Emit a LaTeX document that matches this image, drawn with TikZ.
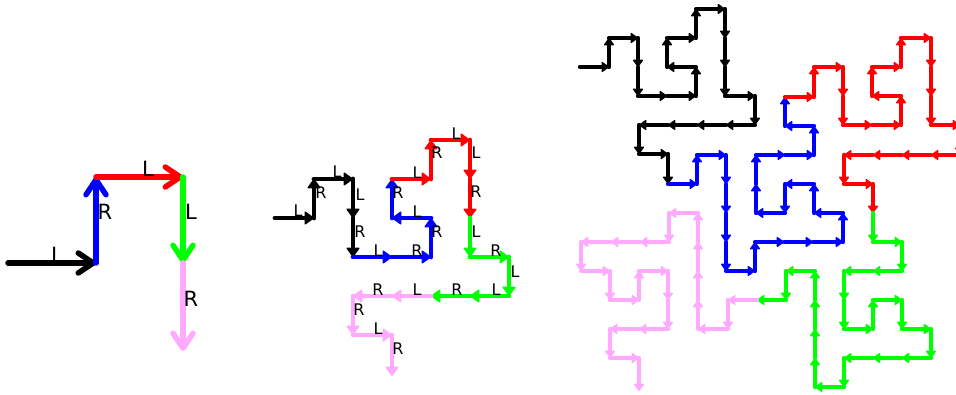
\documentclass[tikz,border=0pt]{standalone}
\usepackage{fontspec}
\setmainfont{DejaVu Sans}
\usetikzlibrary{arrows.meta}
\definecolor{pinkwalk}{RGB}{255,170,255}
\definecolor{greenwalk}{RGB}{0,255,0}
\tikzset{
	bigstep/.style={line width=5.5pt, line cap=round, -{Straight Barb[length=15pt,width=20pt,round]}},
	midstep/.style={line width=4.8pt, line cap=round, -{Triangle[length=10pt,width=14pt,round,line width=1.5pt]}},
	smallstep/.style={line width=4.2pt, line cap=round, -{Triangle[length=8pt,width=11pt,round,line width=1.5pt]}},
	biglabel/.style={font=\fontsize{21}{21}\selectfont, inner sep=0pt},
	midlabel/.style={font=\fontsize{16}{16}\selectfont, inner sep=0pt},
}
% style, colour, first point, other points
\newcommand{\drawwalk}[4]{
	\coordinate (prev) at #3;
	\foreach \p in {#4}{
		\draw[#1, #2] (prev) -- \p;
		\path \p coordinate (prev);
	}
}
\begin{document}
\begin{tikzpicture}[x=1pt, y=-1pt]
	\clip (0,0) rectangle (956,395);

	% one turn of each
	\drawwalk{bigstep}{black}{(8,263)}{(96,263)}
	\drawwalk{bigstep}{blue}{(96,263)}{(96,177)}
	\drawwalk{bigstep}{red}{(96,177)}{(183,177)}
	\drawwalk{bigstep}{greenwalk}{(183,177)}{(183,263)}
	\drawwalk{bigstep}{pinkwalk}{(183,263)}{(183,351)}
	\foreach \t/\x/\y [count=\i] in {L/57/255, R/105/212, L/148/169, L/191/212, R/191/299}{
		\node[biglabel] (big\i) at (\x, \y){\t};
	}

	% two turns
	\drawwalk{midstep}{black}{(275,218)}{(314,218),(314,179),(353,179),(353,218),(353,257)}
	\drawwalk{midstep}{blue}{(353,257)}{(392,257),(431,257),(431,218),(392,218),(392,179)}
	\drawwalk{midstep}{red}{(392,179)}{(431,179),(431,140),(470,140),(470,179),(470,218)}
	\drawwalk{midstep}{greenwalk}{(470,218)}{(470,257),(509,257),(509,296),(470,296),(431,296)}
	\drawwalk{midstep}{pinkwalk}{(431,296)}{(392,296),(353,296),(353,335),(392,335),(392,376)}
	\foreach \t/\x/\y [count=\i] in {L/298/211, R/321/193, L/337/172, L/360/195, R/360/232,
		L/378/251, R/417/251, R/437/232, L/417/212, R/398/193,
		L/417/173, R/437/153, L/456/134, L/476/153, R/476/192,
		L/476/232, R/496/251, L/515/272, L/496/290, R/457/290,
		L/417/290, R/378/290, R/359/310, L/378/329, R/398/349}{
		\node[midlabel] (mid\i) at (\x, \y){\t};
	}

	% three turns
	\drawwalk{smallstep}{black}{(580,67)}{(609,67),(609,38),(638,38),(638,67),(638,96),(667,96),(696,96),(696,67),(667,67),(667,38),(696,38),(696,9),(725,9),(725,38),(725,67),(725,96),(755,96),(755,125),(726,125),(697,125),(668,125),(639,125),(639,154),(668,154),(668,184)}
	\drawwalk{smallstep}{blue}{(668,184)}{(697,184),(697,155),(726,155),(726,184),(726,213),(726,242),(726,271),(755,271),(755,242),(784,242),(813,242),(843,242),(843,213),(814,213),(814,184),(785,184),(785,213),(756,213),(756,184),(756,155),(785,155),(814,155),(814,126),(785,126),(785,97)}
	\drawwalk{smallstep}{red}{(785,97)}{(814,97),(814,67),(843,67),(843,96),(843,125),(872,125),(901,125),(901,96),(872,96),(872,67),(901,67),(901,38),(931,38),(931,67),(931,96),(931,125),(960,125),(960,155),(931,155),(902,155),(873,155),(844,155),(844,184),(873,184),(873,213)}
	\drawwalk{smallstep}{greenwalk}{(873,213)}{(873,242),(902,242),(902,271),(873,271),(844,271),(844,300),(844,329),(873,329),(873,300),(902,300),(902,329),(931,329),(931,358),(902,358),(873,358),(844,358),(844,387),(815,387),(815,358),(815,329),(815,300),(815,271),(786,271),(786,300),(757,300)}
	\drawwalk{smallstep}{pinkwalk}{(757,300)}{(728,300),(728,329),(698,329),(698,300),(698,271),(698,242),(698,213),(669,213),(669,242),(640,242),(611,242),(581,242),(581,271),(610,271),(610,300),(639,300),(639,271),(668,271),(668,300),(668,329),(639,329),(610,329),(610,358),(639,358),(639,391)}
\end{tikzpicture}
\end{document}
